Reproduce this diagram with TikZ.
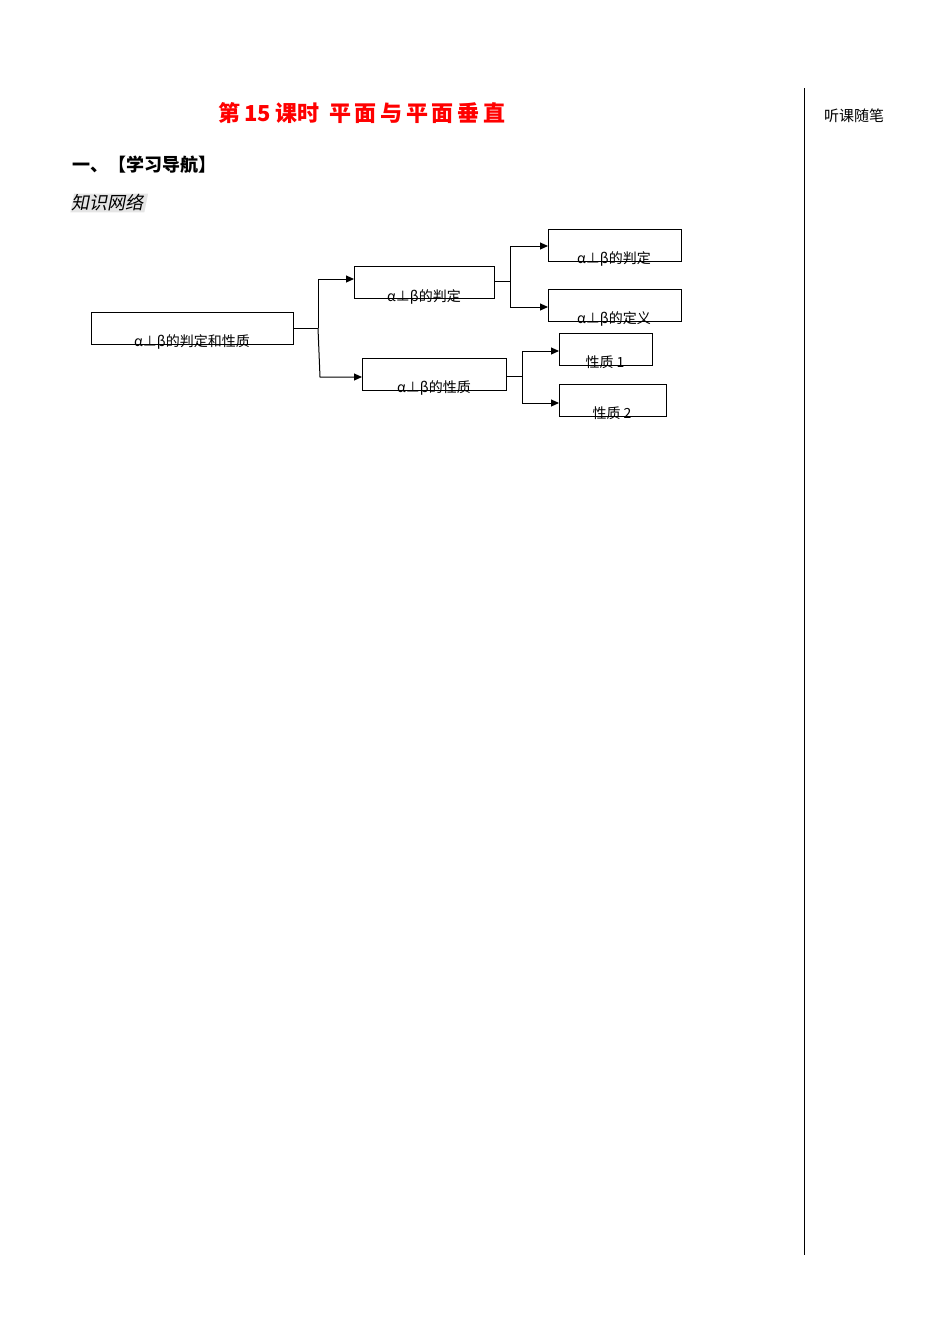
\documentclass[tikz,border=0pt]{standalone}
\usepackage{fontspec}
\setmainfont{Liberation Serif}
\newfontfamily\cjk{Noto Sans CJK SC}
\usetikzlibrary{arrows.meta}
\begin{document}
\begin{tikzpicture}[x=1pt,y=-1pt,
  box/.style={draw,line width=1pt,inner sep=0,anchor=north west},
  lbl/.style={font=\cjk\fontsize{14}{14}\selectfont,inner sep=0},
  conn/.style={line width=1pt},
  arr/.style={line width=1pt,-{Triangle[length=8pt,width=7pt]}}]
\useasboundingbox (0,0) rectangle (950,1344);
\node[font=\cjk\bfseries\fontsize{22}{22}\selectfont,text=red] (title) at (362,113) {第\,15\,课时\ \ 平\,面\,与\,平\,面\,垂\,直};
\node[font=\cjk\bfseries\fontsize{18}{18}\selectfont,anchor=west,inner sep=0] (h1) at (72,165) {一、【学习导航】};
\node[font=\cjk\fontsize{18}{18}\selectfont\itshape,fill=black!10,anchor=west,inner sep=1pt,xslant=0.2] (h2) at (72,203) {知识网络};
\node[font=\cjk\fontsize{15}{15}\selectfont,anchor=west,inner sep=0] (side) at (824,116) {听课随笔};
\draw[line width=1pt] (804,88) coordinate (s1) -- (804,1255) coordinate (s2);
% boxes
\node[box,minimum width=202,minimum height=32] (A) at (91,312) {};
\node[box,minimum width=140,minimum height=32] (B) at (354,266) {};
\node[box,minimum width=144,minimum height=32] (C) at (362,358) {};
\node[box,minimum width=133,minimum height=32] (D) at (548,229) {};
\node[box,minimum width=133,minimum height=32] (E) at (548,289) {};
\node[box,minimum width=93,minimum height=32] (F) at (559,333) {};
\node[box,minimum width=107,minimum height=32] (G) at (559,384) {};
\node[lbl] (tA) at (192,342) {α⊥β的判定和性质};
\node[lbl] (tB) at (424,297) {α⊥β的判定};
\node[lbl] (tC) at (434,388) {α⊥β的性质};
\node[lbl] (tD) at (614,259) {α⊥β的判定};
\node[lbl] (tE) at (614,319) {α⊥β的定义};
\node[lbl] (tF) at (605,362) {性质 1};
\node[lbl] (tG) at (612,413) {性质 2};
% connectors
\coordinate (j1) at (318,328);
\draw[conn] (A.east |- j1) -- (j1);
\draw[arr] (j1) -- (318,279) -- (B.west |- 0,279);
\draw[arr] (j1) -- (320,377) -- (C.west |- 0,377);
\coordinate (j2) at (510,281);
\draw[conn] (B.east |- j2) -- (j2);
\draw[arr] (510,246) -- (D.west |- 0,246);
\draw[arr] (510,246) -- (510,307) -- (E.west |- 0,307);
\coordinate (j3) at (522,376);
\draw[conn] (C.east |- j3) -- (j3);
\draw[arr] (522,351) -- (F.west |- 0,351);
\draw[arr] (522,351) -- (522,403) -- (G.west |- 0,403);
\end{tikzpicture}
\end{document}
